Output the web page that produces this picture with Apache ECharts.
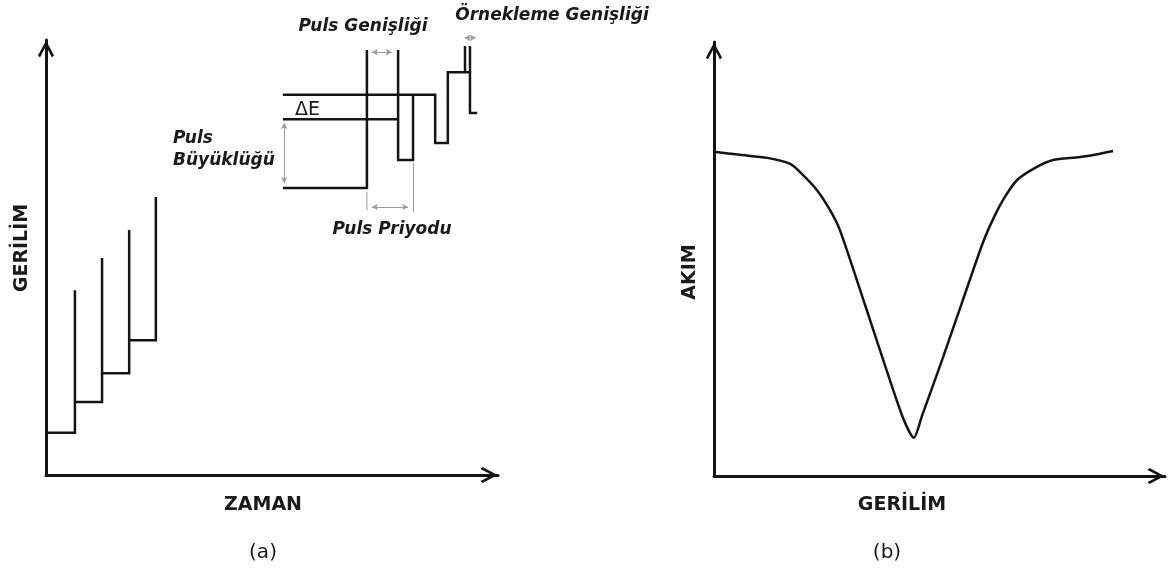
<!DOCTYPE html>
<html>
<head>
<meta charset="utf-8">
<script src="https://cdn.jsdelivr.net/npm/echarts@6/dist/echarts.min.js"></script>
<style>
  html, body { margin: 0; padding: 0; background: #ffffff; }
  #chart { width: 1173px; height: 572px; }
</style>
</head>
<body>
<div id="chart"></div>
<script>
// ---- Panel (a): staircase potential vs time (arbitrary units, 0..100) ----
const stepEdges = [0, 6.4, 12.4, 18.4, 24.3];   // time where each step begins / rises
const stepBase  = [9.7, 16.8, 23.4, 31.0];      // potential level of each step
const stepTop   = [42.5, 49.9, 56.3, 63.9];     // height reached by each pulse edge

// ---- Panel (a) inset: pulse waveform detail ----
const pulseBase  = [[52.4, 66.0], [71.0, 66.0], [71.0, 97.7]];
const deltaLow   = [[52.4, 81.8], [77.9, 81.8]];
const pulseOne   = [[77.9, 97.7], [77.9, 72.4], [81.2, 72.4], [81.2, 87.4]];
const pulseTrain = [[52.4, 87.4], [86.1, 87.4], [86.1, 76.3], [88.9, 76.3],
                    [88.9, 92.6], [93.8, 92.6], [93.8, 83.2], [95.4, 83.2]];
const sampleBars = [[[92.7, 98.6], [92.7, 92.6]], [[93.8, 98.6], [93.8, 92.6]]];
const guideTicks = [[[71.0, 65.1], [71.0, 60.9]], [[81.2, 71.7], [81.2, 60.5]]];
const dimArrows  = [
  [[72.1, 97.2], [76.5, 97.2]],    // pulse width
  [[52.7, 80.9], [52.7, 67.1]],    // pulse amplitude
  [[72.1, 61.6], [80.1, 61.6]]     // pulse period
];
const sampleArrow = [[92.6, 100.5], [95.1, 100.5]];  // sampling width (above the axis end)

// ---- Panel (b): differential pulse current vs potential ----
const potential = [0, 5.8, 11.8, 16.9, 19.7, 22.8, 25.7, 27.9, 33.5, 39.0, 42.1, 44.3,
                   46.1, 50.8, 55.2, 59.6, 62.3, 64.5, 67.2, 71.2, 75.2, 81.2, 88.5];
const current   = [74.7, 74.0, 73.3, 71.9, 69.4, 65.9, 61.3, 56.7, 39.4, 22.1, 12.9, 8.8,
                   13.8, 27.4, 40.6, 53.7, 60.1, 64.3, 68.2, 71.0, 72.8, 73.5, 74.9];

const INK = '#141414';
const DIM = '#9a9a9a';
const arrowHead = 'path://M8,0 L16,15 L14,17 L8,5.5 L2,17 L0,15 Z';

function axis(gridIndex) {
  return {
    type: 'value', gridIndex, min: 0, max: 100,
    axisLine: {
      show: true, onZero: false,
      symbol: ['none', arrowHead], symbolSize: [16, 18], symbolOffset: [0, -9],
      lineStyle: { color: INK, width: 3 }
    },
    axisTick: { show: false }, axisLabel: { show: false }, splitLine: { show: false }
  };
}

function path(data, gridIndex, extra) {
  return Object.assign({
    type: 'line', xAxisIndex: gridIndex, yAxisIndex: gridIndex, data,
    showSymbol: false, symbol: 'none', silent: true, clip: false, animation: false,
    lineStyle: { color: INK, width: 2.5, join: 'miter' }
  }, extra || {});
}

const series = [];
for (let i = 0; i < stepBase.length; i++) {
  series.push(path([[stepEdges[i], stepBase[i]], [stepEdges[i + 1], stepBase[i]],
                    [stepEdges[i + 1], stepTop[i]]], 0));
}
[pulseBase, deltaLow, pulseOne, pulseTrain].concat(sampleBars).forEach(p => {
  series.push(path(p, 0));
});
series.push(path(guideTicks[0], 0, {
  lineStyle: { color: DIM, width: 1 },
  markLine: {
    silent: true, animation: false, symbol: ['arrow', 'arrow'], symbolSize: [5, 6],
    label: { show: false }, emphasis: { disabled: true },
    lineStyle: { color: DIM, width: 1, type: 'solid' },
    data: dimArrows.map(a => [{ coord: a[0] }, { coord: a[1] }])
      .concat(guideTicks.slice(1).map(a => [{ coord: a[0], symbol: 'none' }, { coord: a[1], symbol: 'none' }]))
  }
}));
// small double arrow sitting above the plotting area
series.push(path(sampleArrow.map((p, i) => ({ value: p, symbolRotate: i === 0 ? 90 : -90 })), 0, {
  showSymbol: true, symbol: 'arrow', symbolSize: [5, 6],
  itemStyle: { color: DIM }, lineStyle: { color: DIM, width: 1 }
}));
series.push(path(potential.map((x, i) => [x, current[i]]), 1, {
  smooth: 0.25, lineStyle: { color: INK, width: 2.5 }
}));

const bold = 'bold 19px "DejaVu Sans"';
const note = 'italic bold 17px "DejaVu Sans"';
function label(text, x, y, font, opts, align) {
  const a = align || 'center';
  return Object.assign({
    type: 'text', x, y, silent: true,
    style: { text, font, fill: '#1a1a1a', align: a, verticalAlign: 'middle',
             textAlign: a, textVerticalAlign: 'middle' }
  }, opts || {});
}

const option = {
  backgroundColor: '#ffffff',
  animation: false,
  grid: [
    { left: 46, top: 40, width: 452, height: 435 },
    { left: 714, top: 42, width: 451, height: 434 }
  ],
  xAxis: [axis(0), axis(1)],
  yAxis: [axis(0), axis(1)],
  series,
  graphic: [
    label('ZAMAN', 263, 505, bold),
    label('GERİLİM', 22, 248, bold, { rotation: Math.PI / 2 }),
    label('(a)', 263, 553, '20px "DejaVu Sans"'),
    label('GERİLİM', 902, 505, bold),
    label('AKIM', 690, 272, bold, { rotation: Math.PI / 2 }),
    label('(b)', 887, 553, '20px "DejaVu Sans"'),
    label('Puls Genişliği', 363, 27, note),
    label('Örnekleme Genişliği', 552, 16, note),
    label('Puls Priyodu', 392, 230, note),
    label('Puls', 173, 139, note, null, 'left'),
    label('Büyüklüğü', 173, 161, note, null, 'left'),
    label('ΔE', 295, 110, '19px "DejaVu Sans"', null, 'left')
  ]
};

const chart = echarts.init(document.getElementById('chart'), null, { renderer: 'canvas' });
chart.setOption(option);
</script>
</body>
</html>
